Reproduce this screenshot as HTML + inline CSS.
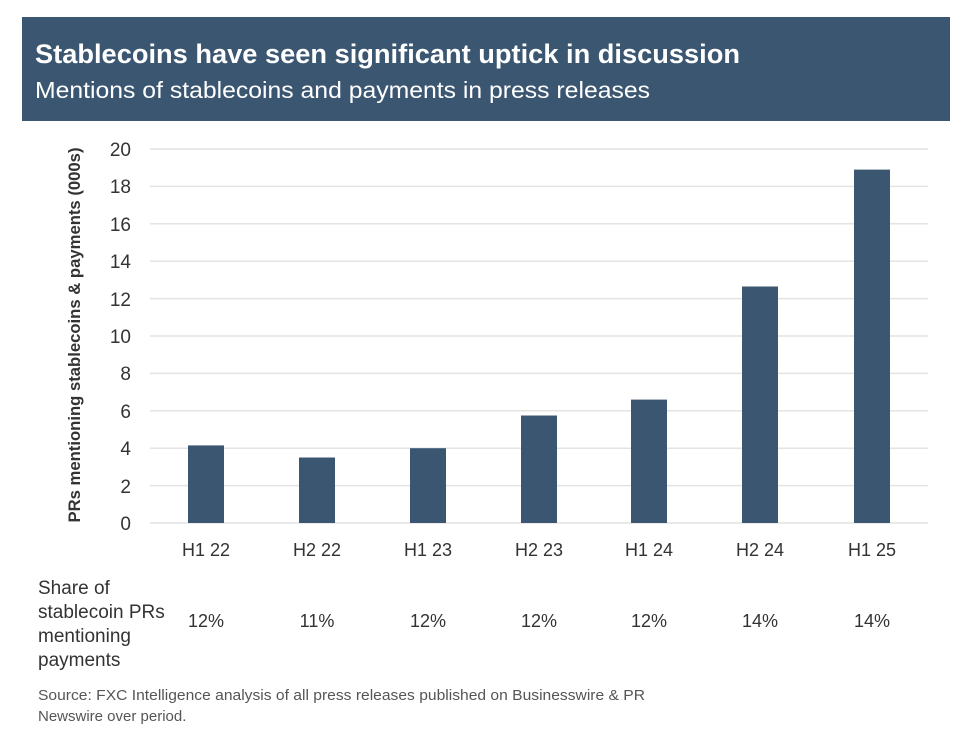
<!DOCTYPE html>
<html><head><meta charset="utf-8"><style>
html,body{margin:0;padding:0;background:#fff;}
svg{display:block;font-family:"Liberation Sans",sans-serif;}
</style></head><body>
<svg width="972" height="738" viewBox="0 0 972 738">
<rect x="22" y="17" width="928" height="104" fill="#3b5671"/>
<text x="35" y="63" fill="#fff" font-size="27" font-weight="bold" textLength="705" lengthAdjust="spacingAndGlyphs">Stablecoins have seen significant uptick in discussion</text>
<text x="35" y="98" fill="#fff" font-size="23" textLength="615" lengthAdjust="spacingAndGlyphs">Mentions of stablecoins and payments in press releases</text>
<g stroke="#e3e3e3" stroke-width="1.5">
<line x1="150" x2="928" y1="149" y2="149"/><line x1="150" x2="928" y1="186.4" y2="186.4"/>
<line x1="150" x2="928" y1="223.8" y2="223.8"/><line x1="150" x2="928" y1="261.2" y2="261.2"/>
<line x1="150" x2="928" y1="298.6" y2="298.6"/><line x1="150" x2="928" y1="336" y2="336"/>
<line x1="150" x2="928" y1="373.4" y2="373.4"/><line x1="150" x2="928" y1="410.8" y2="410.8"/>
<line x1="150" x2="928" y1="448.2" y2="448.2"/><line x1="150" x2="928" y1="485.6" y2="485.6"/>
<line x1="150" x2="928" y1="523" y2="523"/>
</g>
<g font-size="19" fill="#333" text-anchor="end">
<text x="131" y="156">20</text><text x="131" y="193">18</text><text x="131" y="231">16</text>
<text x="131" y="268">14</text><text x="131" y="306">12</text><text x="131" y="343">10</text>
<text x="131" y="380">8</text><text x="131" y="418">6</text><text x="131" y="455">4</text>
<text x="131" y="493">2</text><text x="131" y="530">0</text>
</g>
<text transform="translate(80,335) rotate(-90)" text-anchor="middle" font-size="17" font-weight="bold" fill="#333" textLength="375" lengthAdjust="spacingAndGlyphs">PRs mentioning stablecoins &amp; payments (000s)</text>
<g fill="#3b5671">
<rect x="188" y="445.4" width="36" height="77.6"/>
<rect x="299" y="457.5" width="36" height="65.5"/>
<rect x="410" y="448.2" width="36" height="74.8"/>
<rect x="521" y="415.5" width="36" height="107.5"/>
<rect x="631" y="399.6" width="36" height="123.4"/>
<rect x="742" y="286.5" width="36" height="236.5"/>
<rect x="854" y="169.6" width="36" height="353.4"/>
</g>
<g font-size="18" fill="#333" text-anchor="middle">
<text x="206" y="556">H1 22</text><text x="317" y="556">H2 22</text><text x="428" y="556">H1 23</text>
<text x="539" y="556">H2 23</text><text x="649" y="556">H1 24</text><text x="760" y="556">H2 24</text>
<text x="872" y="556">H1 25</text>
<text x="206" y="627">12%</text><text x="317" y="627">11%</text><text x="428" y="627">12%</text>
<text x="539" y="627">12%</text><text x="649" y="627">12%</text><text x="760" y="627">14%</text>
<text x="872" y="627">14%</text>
</g>
<g font-size="19" fill="#333">
<text x="38" y="594">Share of</text><text x="38" y="618">stablecoin PRs</text>
<text x="38" y="642">mentioning</text><text x="38" y="666">payments</text>
</g>
<g font-size="15" fill="#555">
<text x="38" y="700" textLength="607" lengthAdjust="spacingAndGlyphs">Source: FXC Intelligence analysis of all press releases published on Businesswire &amp; PR</text>
<text x="38" y="721">Newswire over period.</text>
</g>
</svg>
</body></html>
